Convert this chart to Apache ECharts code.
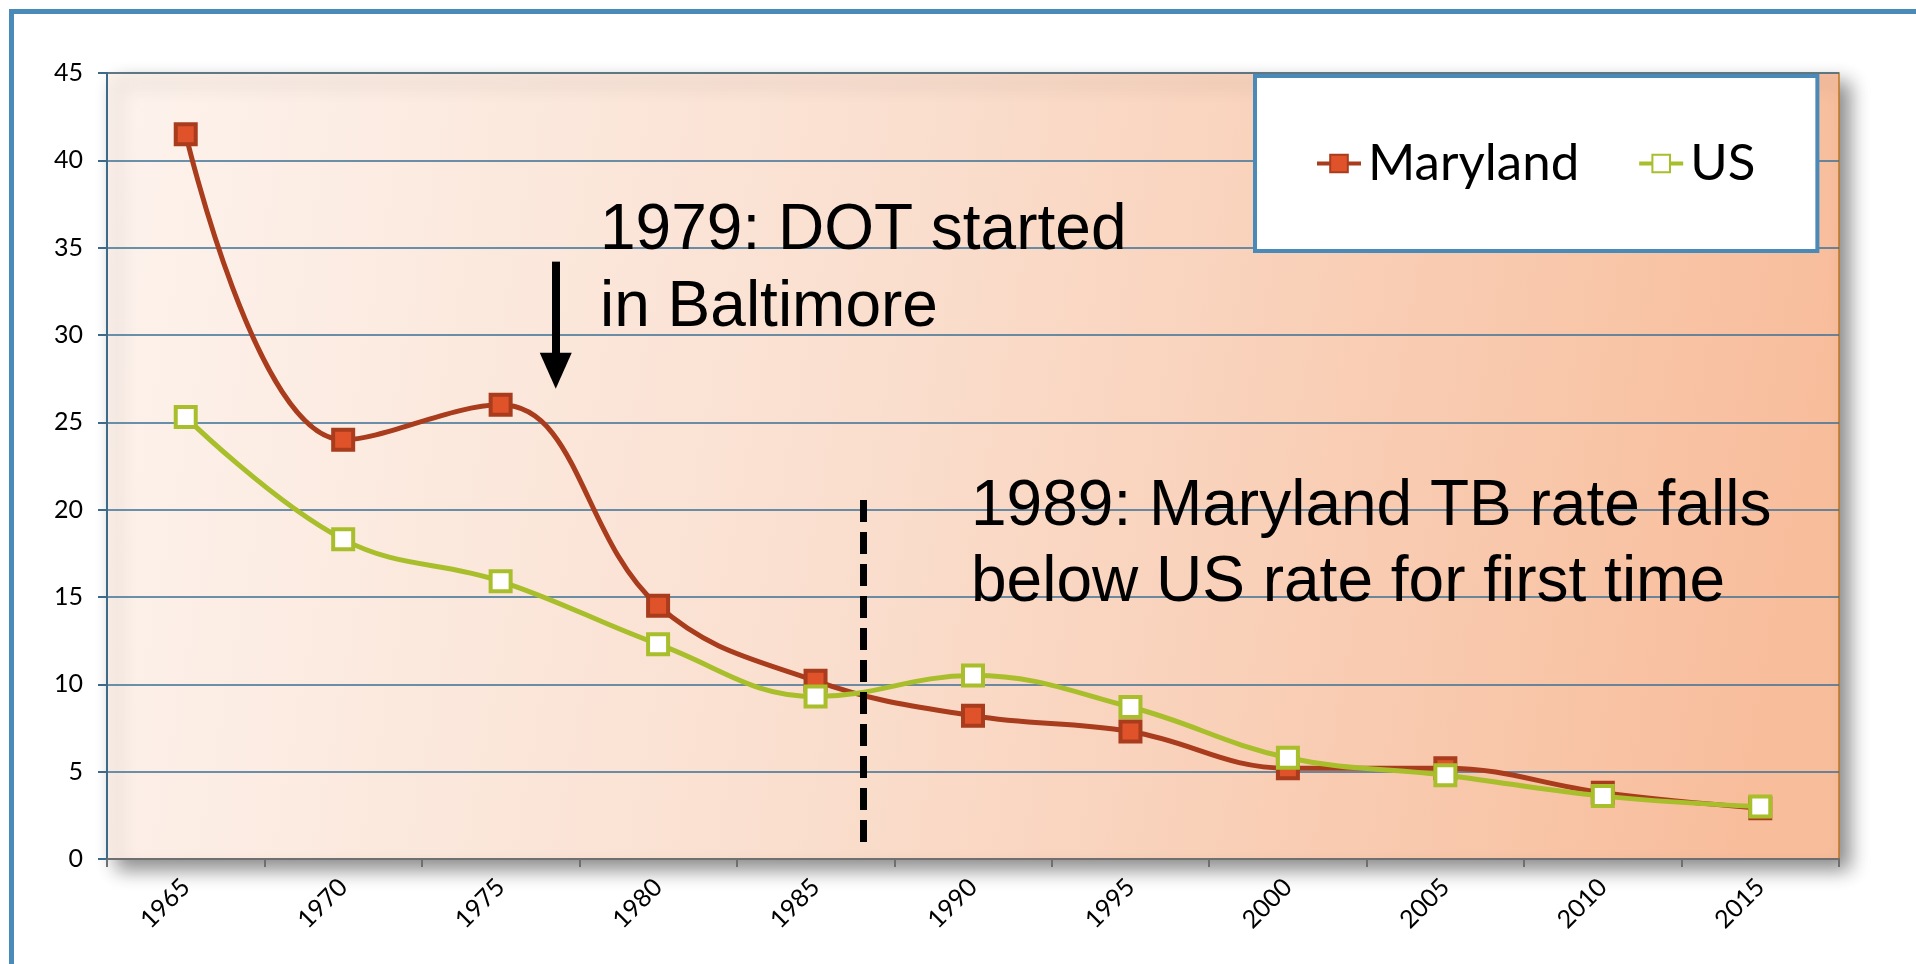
<!DOCTYPE html>
<html>
<head>
<meta charset="utf-8">
<title>Maryland vs US TB rate</title>
<script src="https://cdn.jsdelivr.net/npm/echarts@6/dist/echarts.min.js"></script>
<style>
  html, body { margin: 0; padding: 0; background: #fff; }
  #chart { width: 1916px; height: 964px; }
</style>
</head>
<body>
<div id="chart"></div>
<script>
// data
const years = ['1965', '1970', '1975', '1980', '1985', '1990', '1995', '2000', '2005', '2010', '2015']
const maryland = [41.5, 24.0, 26.0, 14.5, 10.2, 8.2, 7.3, 5.2, 5.2, 3.8, 2.9]
const us = [25.3, 18.3, 15.9, 12.3, 9.3, 10.5, 8.7, 5.8, 4.8, 3.6, 3.0]
const yTicks = [0, 5, 10, 15, 20, 25, 30, 35, 40, 45]

// annotations (x in category units on a hidden 0..11 axis)
const dotLine = [[4.8, 20.55], [4.8, 0.9]]
const arrowLine = [[2.85, 34.2], [2.85, 27.95]]
const note1 = '1979: DOT started\nin Baltimore'
const note2 = '1989: Maryland TB rate falls\nbelow US rate for first time'

const chart = echarts.init(document.getElementById('chart'))

const labelFont = 'Lato, "DejaVu Sans", sans-serif'
const noteFont = '"Liberation Sans", Arial, sans-serif'

const option = {
  animation: false,
  backgroundColor: '#ffffff',
  grid: {
    left: 107,
    top: 73,
    right: 77,
    bottom: 105,
    outerBoundsMode: 'none',
    show: true,
    borderColor: '#c0761e',
    borderWidth: 1.5,
    backgroundColor: new echarts.graphic.LinearGradient(0, 0, 1, 0.4, [
      { offset: 0, color: '#fdf3ed' },
      { offset: 0.45, color: '#fadfcf' },
      { offset: 1, color: '#f8bd9b' }
    ]),
    shadowBlur: 18,
    shadowOffsetX: 10,
    shadowOffsetY: 10,
    shadowColor: 'rgba(0,0,0,0.45)'
  },
  legend: {
    data: ['Maryland', 'US'],
    left: 1255,
    top: 76,
    orient: 'horizontal',
    backgroundColor: '#ffffff',
    borderColor: '#4a8ab8',
    borderWidth: 4,
    padding: [62, 62, 62, 60],
    itemWidth: 44,
    itemHeight: 22,
    itemGap: 58,
    lineStyle: { width: 4 },
    textStyle: {
      fontFamily: labelFont,
      fontSize: 51,
      color: '#000',
      padding: [0, 0, 0, 2]
    }
  },
  xAxis: [
    {
      type: 'category',
      data: years,
      boundaryGap: true,
      axisLine: { lineStyle: { color: '#6f6f6f', width: 2 } },
      axisTick: { show: true, length: 8, lineStyle: { color: '#6f6f6f', width: 2 } },
      axisLabel: {
        rotate: 45,
        margin: 24,
        fontFamily: labelFont,
        fontSize: 25,
        color: '#000'
      },
      splitLine: { show: false }
    },
    {
      type: 'value',
      min: 0,
      max: 11,
      show: false
    }
  ],
  yAxis: {
    type: 'value',
    min: 0,
    max: 45,
    interval: 5,
    axisLine: { show: true, lineStyle: { color: '#3d6a88', width: 2 } },
    axisTick: { show: true, length: 9, lineStyle: { color: '#3d6a88', width: 2 } },
    axisLabel: {
      margin: 24,
      fontFamily: labelFont,
      fontSize: 25,
      color: '#000',
      formatter: v => (yTicks.includes(v) ? String(v) : '')
    },
    splitLine: { lineStyle: { color: '#3a6f95', width: 1.6 } }
  },
  series: [
    {
      name: 'Maryland',
      type: 'line',
      data: maryland,
      smooth: 0.4,
      symbol: 'rect',
      symbolSize: 20,
      lineStyle: { color: '#a83c1c', width: 5 },
      itemStyle: { color: '#e0532a', borderColor: '#a83c1c', borderWidth: 4 },
      z: 3
    },
    {
      name: 'US',
      type: 'line',
      data: us,
      smooth: 0.4,
      symbol: 'rect',
      symbolSize: 20,
      lineStyle: { color: '#a8be2b', width: 5 },
      itemStyle: { color: '#ffffff', borderColor: '#a8be2b', borderWidth: 4 },
      z: 4
    },
    {
      name: 'notes',
      type: 'line',
      xAxisIndex: 1,
      data: [],
      silent: true,
      z: 5,
      markLine: {
        silent: true,
        animation: false,
        label: { show: false },
        data: [
          [
            { coord: dotLine[0], symbol: 'none', lineStyle: { color: '#000', width: 7, type: [22, 10] } },
            { coord: dotLine[1], symbol: 'none' }
          ],
          [
            { coord: arrowLine[0], symbol: 'none', lineStyle: { color: '#000', width: 8, type: 'solid' } },
            { coord: arrowLine[1], symbol: 'triangle', symbolSize: [32, 36] }
          ]
        ]
      }
    }
  ],
  graphic: [
    {
      type: 'rect',
      shape: { x: 11.5, y: 11.5, width: 2000, height: 1100 },
      style: { fill: 'none', stroke: '#4a8ab8', lineWidth: 5 },
      silent: true,
      z: 100
    },
    {
      type: 'text',
      left: 600,
      top: 193,
      style: {
        text: note1,
        font: '64px ' + noteFont,
        lineHeight: 77,
        fill: '#000'
      },
      z: 50
    },
    {
      type: 'text',
      left: 971,
      top: 469,
      style: {
        text: note2,
        font: '64px ' + noteFont,
        lineHeight: 76,
        fill: '#000'
      },
      z: 50
    }
  ]
}

chart.setOption(option)
</script>
</body>
</html>
